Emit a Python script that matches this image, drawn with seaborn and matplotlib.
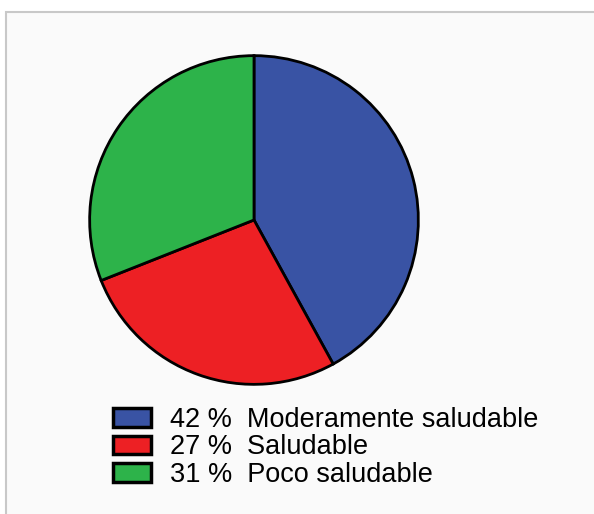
import matplotlib
matplotlib.use("Agg")
import matplotlib.pyplot as plt
from matplotlib.patches import Rectangle
import seaborn as sns

categories = ["Moderamente saludable", "Saludable", "Poco saludable"]
percentages = [42, 27, 31]
colors = ["#3953a4", "#ed2024", "#2db34a"]

sns.set_style("white")
plt.rcParams["font.family"] = ["Liberation Sans", "DejaVu Sans"]
plt.rcParams["text.color"] = "black"

W, H = 594, 514
fig = plt.figure(figsize=(W / 100, H / 100), dpi=100, facecolor="white")

# framed background panel (extends past right/bottom edges)
bg = Rectangle((6 / W, -0.1), 1.2, 1.1 - 12 / H, transform=fig.transFigure,
               facecolor="#fafafa", edgecolor="#c8c8c8", linewidth=1.5, zorder=-5)
fig.patches.append(bg)

cx, cy, r = 254, 220, 166
ax = fig.add_axes([(cx - r) / W, 1 - (cy + r) / H, 2 * r / W, 2 * r / H])
ax.set_zorder(2)
ax.set_facecolor("none")
wedges, _ = ax.pie(percentages, colors=colors, startangle=90, counterclock=False,
                   wedgeprops=dict(edgecolor="black", linewidth=2))
ax.set_xlim(-1.01, 1.01)
ax.set_ylim(-1.01, 1.01)
ax.set_aspect("equal")
ax.axis("off")

labels = [f"{p} %  {c}" for p, c in zip(percentages, categories)]
leg = fig.legend(wedges, labels, loc="upper left",
                 bbox_to_anchor=(113 / W, 1 - 407 / H), frameon=False,
                 fontsize=19.5, handlelength=1.4, handleheight=0.68,
                 handletextpad=0.7, labelspacing=0.05, borderpad=0,
                 borderaxespad=0)
leg.set_zorder(3)
for h in leg.legend_handles:
    h.set_linewidth(2.5)
    h.set_edgecolor("black")
for t in leg.get_texts():
    t.set_color("black")

fig.savefig("out.png", dpi=100, facecolor="white")
